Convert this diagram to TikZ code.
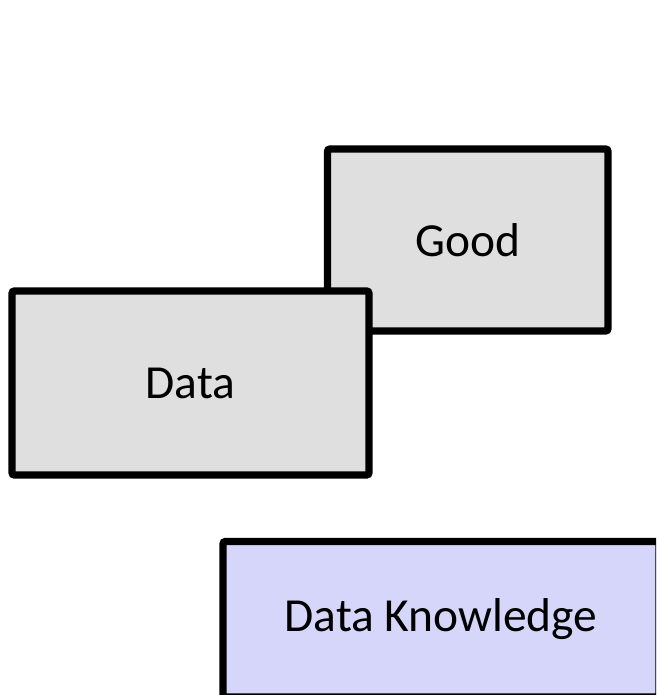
\documentclass[tikz,border=0pt]{standalone}
\usepackage{fontspec}
\setmainfont{Carlito}
\usepackage{xcolor}

\definecolor{boxgray}{HTML}{DFDFDF}
\definecolor{boxlav}{HTML}{D6D6FA}

\begin{document}
\begin{tikzpicture}[
    box/.style={
        rectangle,
        draw=black,
        line width=4pt,
        rounded corners=1.2pt,
        fill=boxgray,
        align=center,
        inner sep=0pt,
        font=\fontsize{27}{32}\selectfont
    }
]

\clip (0,0) rectangle (13.12,13.9);
\useasboundingbox (0,0) rectangle (13.12,13.9);

\node[box, minimum width=5.61cm, minimum height=3.64cm] (good) at (9.355,9.1) {Good};

\node[box, minimum width=7.14cm, minimum height=3.68cm] (data) at (3.81,6.24) {Data};

\node[box, fill=boxlav, minimum width=8.72cm, minimum height=3.11cm] (know) at (8.82,1.515) {Data Knowledge};

\end{tikzpicture}
\end{document}
